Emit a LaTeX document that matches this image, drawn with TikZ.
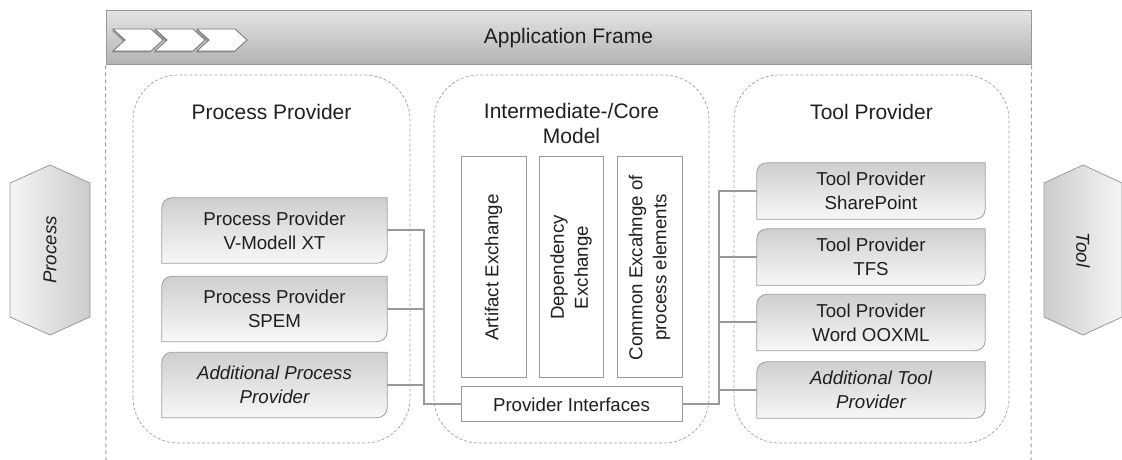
\documentclass[tikz,border=0pt]{standalone}
\usepackage{fontspec}
\setmainfont{Liberation Sans}
\usetikzlibrary{shadows}
\pgfdeclarelayer{back}
\pgfdeclarelayer{mid}
\pgfsetlayers{back,mid,main}
\tikzset{
  boxtxt/.style={font=\fontsize{18.7}{24}\selectfont, text=black!88, align=center, inner sep=0pt},
  ttl/.style={font=\fontsize{21}{25}\selectfont, text=black!88, align=center, inner sep=0pt},
  grp/.style={draw=black!38, dash pattern=on 3pt off 2pt, line width=0.7pt, rounded corners=45pt},
  frameline/.style={draw=black!38, dash pattern=on 4pt off 3pt, line width=1pt},
  conn/.style={draw=black!40, line width=2pt},
  provbox/.style={boxtxt, minimum height=65pt, minimum width=225pt},
  toolbox/.style={boxtxt, minimum height=56pt, minimum width=228pt},
  corebox/.style={boxtxt, draw=black!40, line width=1pt, fill=white, rotate=90, minimum width=221pt, minimum height=65pt},
  chev/.style={draw=black!55, line width=0.8pt, fill=white, drop shadow={shadow xshift=-1.5pt, shadow yshift=-1.5pt, fill=black!60}},
  hexl/.style={draw=black!40, line width=0.8pt, left color=black!4, right color=black!20},
  hexr/.style={draw=black!40, line width=0.8pt, left color=black!20, right color=black!4},
  cshape/.style={draw=black!38, line width=0.8pt, top color=black!19, bottom color=black!3}
}
\newcommand\cornerbox[1]{\path[cshape] (#1.south west) -- ([yshift=-10pt]#1.north west) arc[start angle=180, end angle=90, radius=10pt] -- (#1.north east) -- ([yshift=10pt]#1.south east) arc[start angle=0, end angle=-90, radius=10pt] -- cycle;}
\begin{document}
\begin{tikzpicture}[x=1pt,y=1pt]
\useasboundingbox (0,0) rectangle (1122,460);

% application frame
\node[ttl, draw=black!40, line width=1pt, top color=black!11, bottom color=black!30, minimum width=925pt, minimum height=54pt] (app) at (568.5,422) {Application Frame};
\coordinate (fl) at (106,0);
\coordinate (fr) at (1031,0);
\draw[frameline] (app.south west) -- (fl);
\draw[frameline] (app.south east) -- (fr);

% chevrons
\foreach \x in {113,155,197}{
  \path[chev] (\x,431) -- (\x+38,431) -- (\x+50,420) -- (\x+38,409) -- (\x,409) -- (\x+12,420) -- cycle;
}

% side hexagons
\path[hexl] (10,277) -- (50,295) -- (90,277) -- (90,143) -- (50,125) -- (10,143) -- cycle;
\node[boxtxt, font=\fontsize{18.7}{24}\selectfont\itshape, rotate=90] (proc) at (50,210) {Process};
\path[hexr] (1044,277) -- (1083,295) -- (1122,277) -- (1122,143) -- (1083,125) -- (1044,143) -- cycle;
\node[boxtxt, font=\fontsize{18.7}{24}\selectfont\itshape, rotate=-90] (tool) at (1083,210) {Tool};

% groups
\begin{pgfonlayer}{back}
\draw[grp] (133,17) rectangle (410,385);
\draw[grp] (434,17) rectangle (709,385);
\draw[grp] (734,17) rectangle (1009,385);
\end{pgfonlayer}
\node[ttl] (gpp) at (271.5,348) {Process Provider};
\node[ttl] (gcore) at (571.5,337) {Intermediate-/Core\\Model};
\node[ttl] (gtp) at (871.5,348) {Tool Provider};

% process provider boxes
\node[provbox] (pp1) at (274.5,229.5) {Process Provider\\V-Modell XT};
\node[provbox] (pp2) at (274.5,151) {Process Provider\\SPEM};
\node[provbox, font=\fontsize{18.7}{24}\selectfont\itshape] (pp3) at (274.5,75) {Additional Process\\Provider};

% tool provider boxes
\node[toolbox] (t1) at (871,269) {Tool Provider\\SharePoint};
\node[toolbox] (t2) at (871,203) {Tool Provider\\TFS};
\node[toolbox] (t3) at (871,137.5) {Tool Provider\\Word OOXML};
\node[toolbox, font=\fontsize{18.7}{24}\selectfont\itshape] (t4) at (871,70) {Additional Tool\\Provider};

\begin{pgfonlayer}{mid}
\cornerbox{pp1}\cornerbox{pp2}\cornerbox{pp3}
\cornerbox{t1}\cornerbox{t2}\cornerbox{t3}\cornerbox{t4}
\end{pgfonlayer}

% core boxes
\node[corebox] (ae) at (493.5,192.5) {Artifact Exchange};
\node[corebox, minimum height=64pt] (de) at (571,192.5) {Dependency\\Exchange};
\node[corebox] (ce) at (649.5,192.5) {Common Excahnge of\\process elements};
\node[boxtxt, draw=black!40, line width=1pt, fill=white, minimum width=221pt, minimum height=35pt] (pi) at (571.5,55.5) {Provider Interfaces};

% connectors
\coordinate (busL) at (424,0);
\coordinate (busR) at (719,0);
\begin{pgfonlayer}{back}
\draw[conn] (pp1.east) -- (pp1.east -| busL) -- (busL |- pi.west) -- (pi.west);
\draw[conn] (pp2.east) -- (pp2.east -| busL);
\draw[conn] (pp3.east) -- (pp3.east -| busL);
\draw[conn] (pi.east) -- (pi.east -| busR) -- (busR |- t1.west) -- (t1.west);
\draw[conn] (t2.west) -- (t2.west -| busR);
\draw[conn] (t3.west) -- (t3.west -| busR);
\draw[conn] (t4.west) -- (t4.west -| busR);
\end{pgfonlayer}
\end{tikzpicture}
\end{document}
